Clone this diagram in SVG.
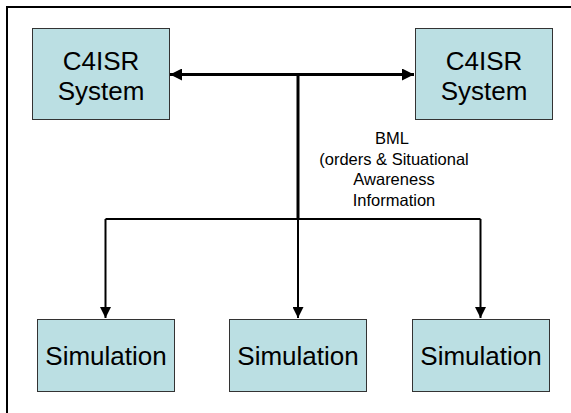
<svg xmlns="http://www.w3.org/2000/svg" width="571" height="413" viewBox="0 0 571 413">
  <defs>
    <style>
      .box { fill: #BBDFE3; stroke: #333333; stroke-width: 1; }
      .lbl { font-family: "Liberation Sans", Arial, sans-serif; font-size: 26px; fill: #000; text-anchor: middle; }
      .note { font-family: "Liberation Sans", Arial, sans-serif; font-size: 16.5px; fill: #000; text-anchor: middle; }
      .thick { fill: none; stroke: #000; stroke-width: 3; }
      .thin { fill: none; stroke: #000; stroke-width: 2; }
    </style>
    <marker id="arr" viewBox="0 0 10 10" refX="10" refY="5" markerWidth="4" markerHeight="4" orient="auto-start-reverse" markerUnits="strokeWidth">
      <path d="M0,0 L10,5 L0,10 Z" fill="#000"/>
    </marker>
    <marker id="arr2" viewBox="0 0 10 10" refX="10" refY="5" markerWidth="5.5" markerHeight="5.5" orient="auto" markerUnits="strokeWidth">
      <path d="M0,0 L10,5 L0,10 Z" fill="#000"/>
    </marker>
  </defs>

  <rect x="0" y="0" width="571" height="413" fill="#fff"/>
  <g id="frame">
    <path d="M7,413 L7,7 L571,7" fill="none" stroke="#000" stroke-width="2"/>
  </g>

  <g id="connectors">
    <line class="thick" x1="170" y1="74.5" x2="414" y2="74.5" marker-start="url(#arr)" marker-end="url(#arr)"/>
    <line class="thick" x1="298" y1="74.5" x2="298" y2="219"/>
    <path class="thin" d="M105.5,219 L480.5,219"/>
    <line class="thin" x1="105.5" y1="219" x2="105.5" y2="318" marker-end="url(#arr2)"/>
    <line class="thin" x1="298" y1="219" x2="298" y2="318" marker-end="url(#arr2)"/>
    <line class="thin" x1="480.5" y1="219" x2="480.5" y2="318" marker-end="url(#arr2)"/>
    <g id="bml-label">
      <text class="note" x="392" y="144">BML</text>
      <text class="note" x="394" y="164.5">(orders &amp; Situational</text>
      <text class="note" x="394" y="185">Awareness</text>
      <text class="note" x="394" y="205.5">Information</text>
    </g>
  </g>

  <g id="c4isr-left">
    <rect class="box" x="32.5" y="28.5" width="137" height="91"/>
    <text class="lbl" x="101" y="70">C4ISR</text>
    <text class="lbl" x="101" y="100">System</text>
  </g>
  <g id="c4isr-right">
    <rect class="box" x="415.5" y="28.5" width="137" height="91"/>
    <text class="lbl" x="484" y="70">C4ISR</text>
    <text class="lbl" x="484" y="100">System</text>
  </g>

  <g id="sim-1">
    <rect class="box" x="37.5" y="319.5" width="137" height="72"/>
    <text class="lbl" x="106" y="365">Simulation</text>
  </g>
  <g id="sim-2">
    <rect class="box" x="229.5" y="319.5" width="137" height="72"/>
    <text class="lbl" x="298" y="365">Simulation</text>
  </g>
  <g id="sim-3">
    <rect class="box" x="412.5" y="319.5" width="137" height="72"/>
    <text class="lbl" x="481" y="365">Simulation</text>
  </g>
</svg>
